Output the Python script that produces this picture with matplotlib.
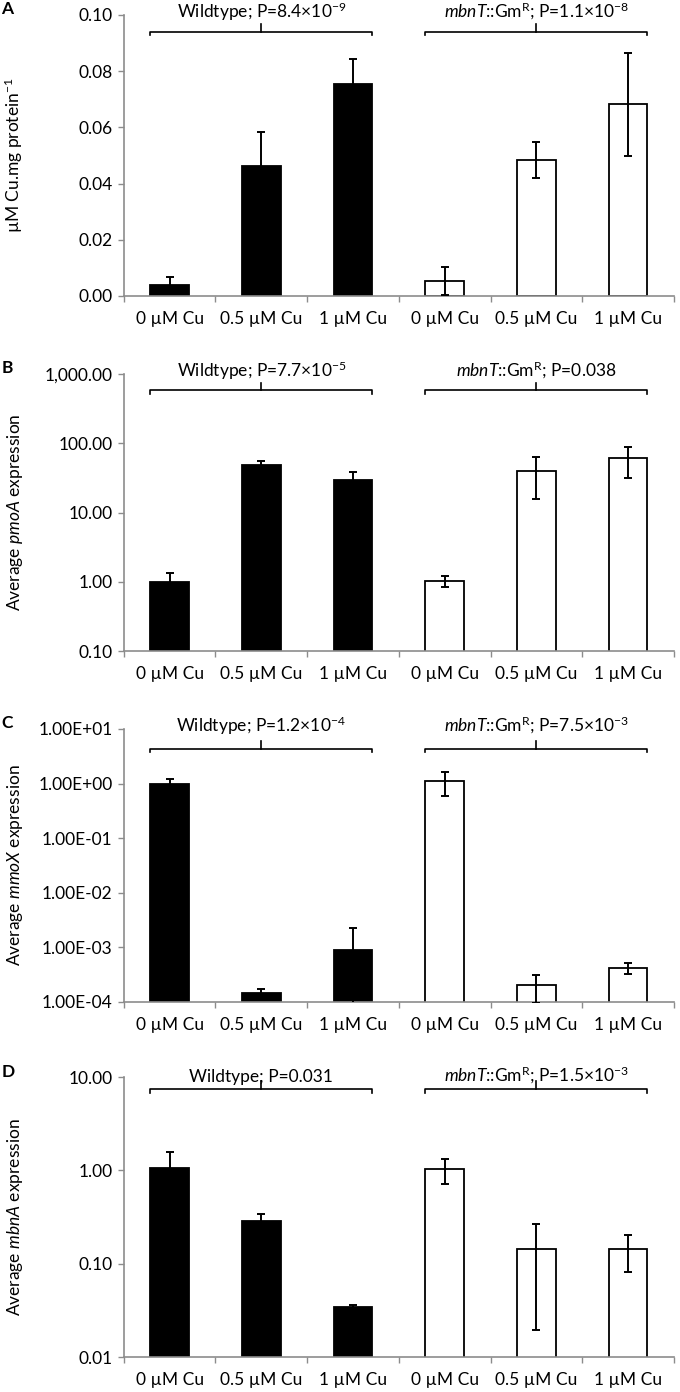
import numpy as np
import matplotlib
matplotlib.use('Agg')
import matplotlib.pyplot as plt
import matplotlib.ticker as mticker
import matplotlib.transforms as mtransforms

plt.rcParams['font.family'] = ['Lato', 'DejaVu Sans']
plt.rcParams['mathtext.fontset'] = 'custom'
plt.rcParams['mathtext.rm'] = 'Lato'
plt.rcParams['mathtext.it'] = 'Lato:italic'
plt.rcParams['mathtext.bf'] = 'Lato:bold'

# categories
conditions = ['0 µM Cu', '0.5 µM Cu', '1 µM Cu', '0 µM Cu', '0.5 µM Cu', '1 µM Cu']

# A: copper uptake (wildtype first three, mutant last three)
cu_mean = [0.0039, 0.0463, 0.0754, 0.0054, 0.0483, 0.0682]
cu_err = [0.0030, 0.0120, 0.0088, 0.0050, 0.0064, 0.0184]

# B: pmoA expression
pmoa_mean = [1.0, 49.2, 29.6, 1.02, 39.5, 60.8]
pmoa_err = [0.35, 5.8, 8.6, 0.19, 23.8, 28.9]

# C: mmoX expression
mmox_mean = [1.0, 1.46e-4, 8.9e-4, 1.12, 2.02e-4, 4.2e-4]
mmox_err = [0.235, 0.25e-4, 1.42e-3, 0.53, 1.06e-4, 0.95e-4]

# D: mbnA expression
mbna_mean = [1.07, 0.286, 0.0343, 1.03, 0.1436, 0.1436]
mbna_err = [0.50, 0.057, 0.0018, 0.31, 0.124, 0.062]

wt_labels = ['Wildtype; P=8.4×10$^{-9}$', 'Wildtype; P=7.7×10$^{-5}$',
             'Wildtype; P=1.2×10$^{-4}$', 'Wildtype; P=0.031']
mut_labels = [r'$\mathit{mbnT}$::Gm$^{\mathrm{R}}$; P=1.1×10$^{-8}$',
              r'$\mathit{mbnT}$::Gm$^{\mathrm{R}}$; P=0.038',
              r'$\mathit{mbnT}$::Gm$^{\mathrm{R}}$; P=7.5×10$^{-3}$',
              r'$\mathit{mbnT}$::Gm$^{\mathrm{R}}$; P=1.5×10$^{-3}$']
ylabels = ['µM Cu.mg protein$^{-1}$', r'Average $\mathit{pmoA}$ expression',
           r'Average $\mathit{mmoX}$ expression', r'Average $\mathit{mbnA}$ expression']
letters = ['A', 'B', 'C', 'D']

fig = plt.figure(figsize=(6.8, 13.92), dpi=100)

# axes rectangles [left, bottom, width, height]
rects = [[0.182, 0.7874, 0.809, 0.2019],
         [0.182, 0.5323, 0.809, 0.1990],
         [0.182, 0.2802, 0.809, 0.1961],
         [0.182, 0.0251, 0.809, 0.2011]]
bracket_y = [0.939, 0.941, 0.927, 0.957]
text_y = [0.990, 0.990, 0.990, 0.983]

means = [cu_mean, pmoa_mean, mmox_mean, mbna_mean]
errs = [cu_err, pmoa_err, mmox_err, mbna_err]
colors = ['black'] * 3 + ['white'] * 3
grey = '#8c8c8c'
fs = 12.5
x = np.arange(len(conditions))
bw = 0.42

for i in range(4):
    ax = fig.add_axes(rects[i])
    ax.bar(x, means[i], width=bw, color=colors, edgecolor='black', linewidth=1.3, zorder=2)
    ax.errorbar(x, means[i], yerr=errs[i], fmt='none', ecolor='black',
                elinewidth=1.4, capsize=3, capthick=1.4, zorder=3)

    if i == 0:
        ax.set_ylim(0, 0.10)
        ax.yaxis.set_major_locator(mticker.MultipleLocator(0.02))
        ax.yaxis.set_major_formatter(mticker.FormatStrFormatter('%.2f'))
    else:
        ax.set_yscale('log')
        if i == 1:
            ax.set_ylim(0.1, 1000)
            ax.yaxis.set_major_locator(mticker.FixedLocator([0.1, 1, 10, 100, 1000]))
            ax.yaxis.set_major_formatter(mticker.FuncFormatter(lambda v, p: f'{v:,.2f}'))
        elif i == 2:
            ax.set_ylim(1e-4, 10)
            ax.yaxis.set_major_locator(mticker.FixedLocator([1e-4, 1e-3, 1e-2, 1e-1, 1, 10]))
            ax.yaxis.set_major_formatter(mticker.FuncFormatter(lambda v, p: f'{v:.2E}'))
        else:
            ax.set_ylim(0.01, 10)
            ax.yaxis.set_major_locator(mticker.FixedLocator([0.01, 0.1, 1, 10]))
            ax.yaxis.set_major_formatter(mticker.FuncFormatter(lambda v, p: f'{v:.2f}'))
        ax.yaxis.set_minor_locator(mticker.NullLocator())

    ax.set_xlim(-0.5, 5.5)
    ax.set_xticks(x)
    ax.set_xticklabels(conditions)
    ax.set_xticks(np.arange(-0.5, 6.0, 1.0), minor=True)
    ax.tick_params(axis='x', which='major', length=0, pad=11, labelsize=fs)
    ax.tick_params(axis='x', which='minor', length=4, color=grey, width=1)
    ax.tick_params(axis='y', length=4, color=grey, width=1, labelsize=fs, pad=4)

    for s in ['top', 'right']:
        ax.spines[s].set_visible(False)
    for s in ['left', 'bottom']:
        ax.spines[s].set_color(grey)
        ax.spines[s].set_linewidth(1.2)

    ax.set_ylabel(ylabels[i], fontsize=fs)
    ax.yaxis.set_label_coords(-0.18, 0.5)

    # group brackets
    trans = mtransforms.blended_transform_factory(ax.transData, ax.transAxes)
    by = bracket_y[i]
    for (x0, x1, lab) in [(-bw / 2, 2 + bw / 2, wt_labels[i]), (3 - bw / 2, 5 + bw / 2, mut_labels[i])]:
        xm = (x0 + x1) / 2
        ax.plot([x0, x0, x1, x1], [by - 0.012, by, by, by - 0.012], color='black',
                lw=1.2, transform=trans, clip_on=False)
        ax.plot([xm, xm], [by, by + 0.028], color='black', lw=1.2, transform=trans, clip_on=False)
        ax.text(xm, text_y[i], lab, transform=trans, ha='center', va='baseline',
                fontsize=fs, clip_on=False)

    fig.text(0.002, rects[i][1] + rects[i][3] + 0.004, letters[i], fontsize=12.5,
             fontweight='bold', ha='left', va='center')

fig.savefig('out.png', dpi=100)
